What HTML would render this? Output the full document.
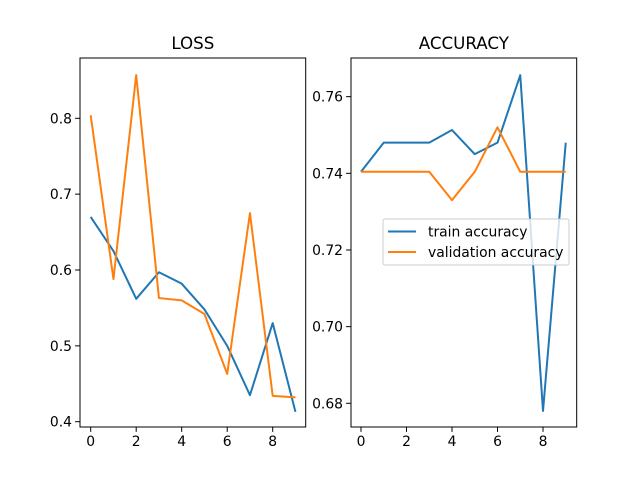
<!DOCTYPE html>
<html><head><meta charset="utf-8"><style>body{margin:0;background:#fff}svg{font-family:"DejaVu Sans","Liberation Sans",sans-serif}</style></head>
<body>
<svg id="chart" width="640" height="480" xmlns="http://www.w3.org/2000/svg"></svg>
<script>
const epochs = [0,1,2,3,4,5,6,7,8,9];
const trainLoss = [0.670,0.625,0.562,0.597,0.582,0.548,0.500,0.435,0.530,0.413];
const valLoss = [0.804,0.588,0.857,0.563,0.560,0.542,0.463,0.675,0.434,0.432];
const trainAcc = [0.7404,0.748,0.748,0.748,0.7513,0.745,0.748,0.7656,0.678,0.748];
const valAcc = [0.7404,0.7404,0.7404,0.7404,0.733,0.7404,0.752,0.7404,0.7404,0.7404];
const xTicks = [0,2,4,6,8];
const lossTicks = [0.4,0.5,0.6,0.7,0.8];
const accTicks = [0.68,0.70,0.72,0.74,0.76];
const svg = document.getElementById('chart');
const NS = 'http://www.w3.org/2000/svg';
function mk(tag, attrs, parent){const e=document.createElementNS(NS,tag);for(const k in attrs)e.setAttribute(k,attrs[k]);(parent||svg).appendChild(e);return e;}
function panel(name, box, x0, xpx0, xs, y0, ypx0, ys, yTicks, yDec, title, series){
  const g = mk('g',{});
  
  
  const X = v => xpx0 + (v - x0) * xs;
  const Y = v => ypx0 - (v - y0) * ys;
  series.forEach(s=>{
    const p = mk('polyline',{points:epochs.map((e,i)=>X(e)+','+Y(s.vals[i])).join(' '),fill:'none',stroke:s.color,'stroke-width':2,'stroke-linejoin':'round'},g);
    
    
  });
  const r = mk('rect',{x:box[0],y:box[1],width:box[2]-box[0],height:box[3]-box[1],fill:'none',stroke:'#000','stroke-width':1},g);
  
  
  xTicks.forEach(t=>{
    mk('line',{x1:X(t),x2:X(t),y1:box[3],y2:box[3]+4.9,stroke:'#000','stroke-width':1},g);
    const tx = mk('text',{x:X(t),y:box[3]+19,'font-size':13.9,'text-anchor':'middle'},g);
    tx.textContent = t;
    
    
  });
  yTicks.forEach(t=>{
    mk('line',{x1:box[0]-4.9,x2:box[0],y1:Y(t),y2:Y(t),stroke:'#000','stroke-width':1},g);
    const tx = mk('text',{x:box[0]-8,y:Y(t)+5,'font-size':13.9,'text-anchor':'end'},g);
    tx.textContent = t.toFixed(yDec);
    
    
  });
  const tt = mk('text',{x:(box[0]+box[2])/2,y:box[1]-9,'font-size':16.7,'text-anchor':'middle'},g);
  tt.textContent = title;
  
  
}
panel('loss-panel',[80,58,305.7,427],0,90.7,22.75,0.4,421.7,758.5,lossTicks,1,'LOSS',
  [{name:'train-loss-line',vals:trainLoss,color:'#1f77b4'},{name:'validation-loss-line',vals:valLoss,color:'#ff7f0e'}]);
panel('accuracy-panel',[351,58,576.7,427],0,361,22.75,0.68,403.3,3833,accTicks,2,'ACCURACY',
  [{name:'train-accuracy-line',vals:trainAcc,color:'#1f77b4'},{name:'validation-accuracy-line',vals:valAcc,color:'#ff7f0e'}]);
const lg = mk('g',{});


mk('rect',{x:383,y:219,width:186,height:46,rx:2,fill:'#fff','fill-opacity':0.8,stroke:'#ccc','stroke-width':1},lg);
[['train accuracy','#1f77b4',231.5],['validation accuracy','#ff7f0e',252]].forEach(([t,c,y])=>{
  mk('line',{x1:388,x2:416,y1:y,y2:y,stroke:c,'stroke-width':2},lg);
  const tx = mk('text',{x:428,y:y+5,'font-size':13.9},lg);
  tx.textContent = t;
  
  
});
</script>
</body></html>
